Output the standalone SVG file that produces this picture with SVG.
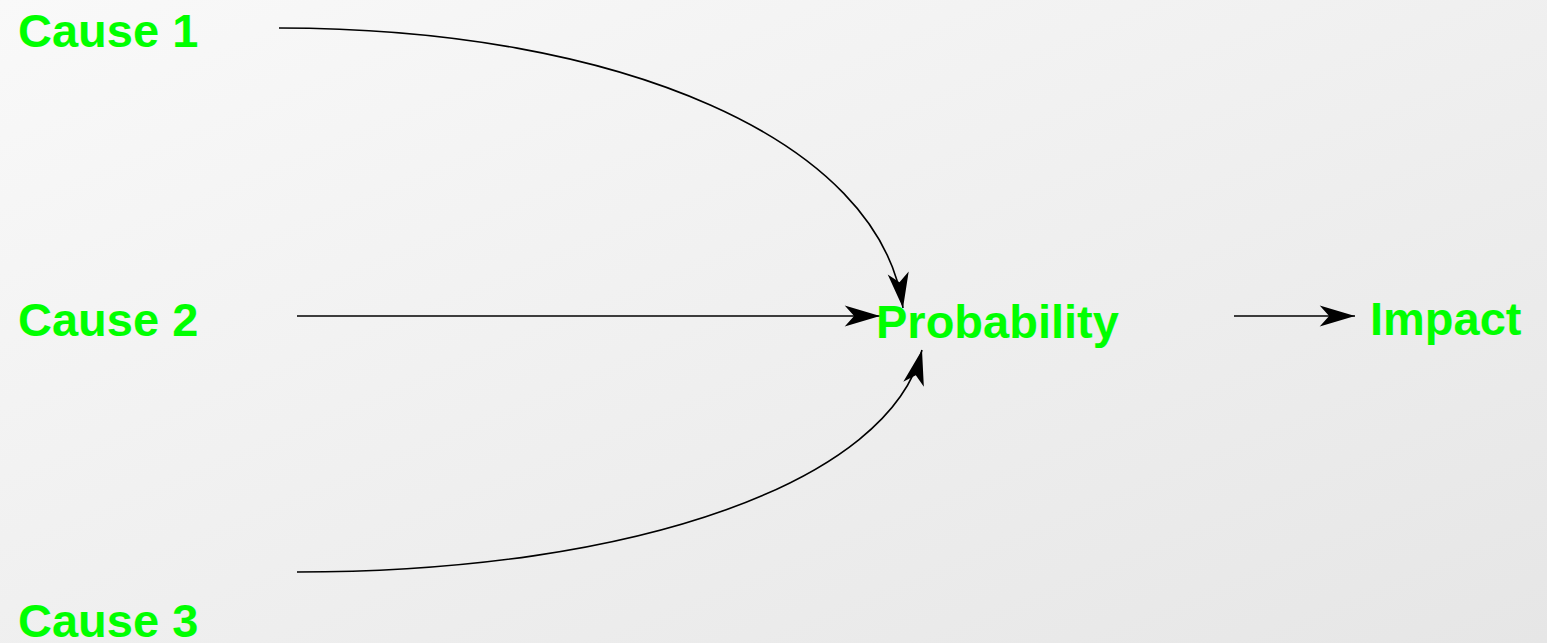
<svg xmlns="http://www.w3.org/2000/svg" width="1547" height="643" viewBox="0 0 1547 643">
<defs>
<linearGradient id="bg" x1="0" y1="0" x2="1" y2="1">
<stop offset="0" stop-color="#f9f9f9"/>
<stop offset="1" stop-color="#e6e6e6"/>
</linearGradient>
<marker id="arr" markerUnits="userSpaceOnUse" markerWidth="40" markerHeight="30" viewBox="-32 -12 34 24" refX="0" refY="0" orient="auto">
<path d="M0,0 L-30,-9 L-22,0 L-30,9 Z" fill="#000"/>
</marker>
<style>
.lbl{font-family:"Liberation Sans",Arial,sans-serif;font-weight:bold;font-size:47px;fill:#00ff00}
.con{fill:none;stroke:#000;stroke-width:1.6;marker-end:url(#arr)}
</style>
</defs>
<rect width="1547" height="643" fill="url(#bg)"/>
<g id="connectors">
<path class="con" d="M279,28 C620,28 880,140 903,308"/>
<path class="con" d="M297,316 L880,316"/>
<path class="con" d="M297,572 C640,572 890,480 922,350"/>
<path class="con" d="M1234,316 L1355,316"/>
</g>
<g id="cause1"><text class="lbl" x="18" y="47">Cause 1</text></g>
<g id="cause2"><text class="lbl" x="18" y="336">Cause 2</text></g>
<g id="cause3"><text class="lbl" x="18" y="637">Cause 3</text></g>
<g id="probability"><text class="lbl" x="876" y="338">Probability</text></g>
<g id="impact"><text class="lbl" x="1370" y="335">Impact</text></g>
</svg>
